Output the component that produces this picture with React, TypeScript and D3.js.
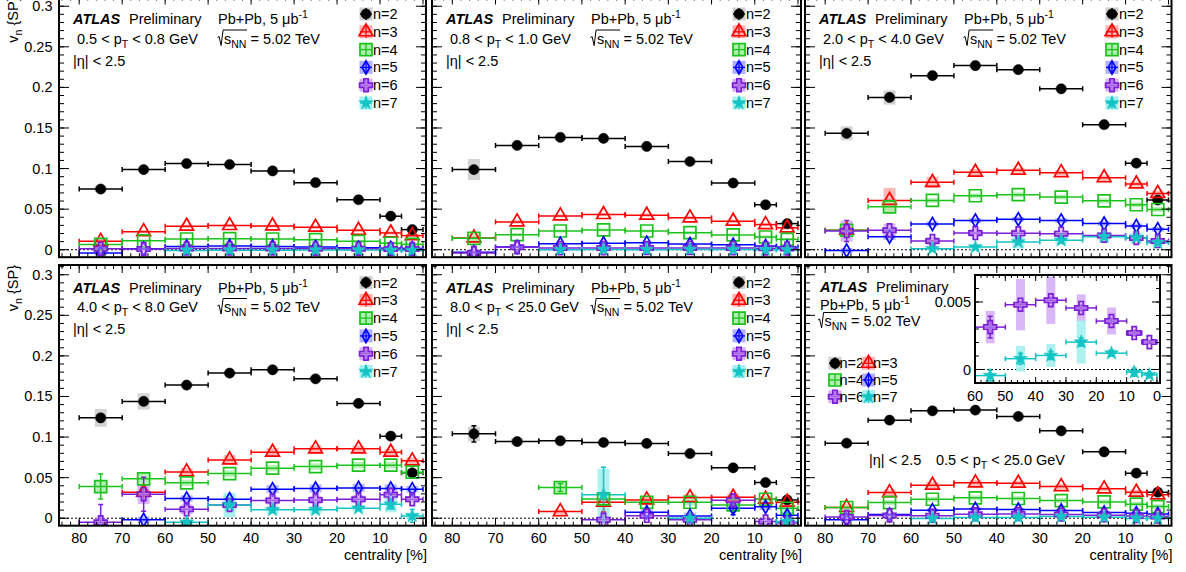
import React from 'react'
import * as d3 from 'd3'

const W = 1186
const H = 572
const FONT = '"Liberation Sans", Arial, Helvetica, sans-serif'

// centrality bins (%), most peripheral first
const binLow = [70, 60, 50, 40, 30, 20, 10, 5, 0]
const binHigh = [80, 70, 60, 50, 40, 30, 20, 10, 5]
const binMid = [75, 65, 55, 45, 35, 25, 15, 7.5, 2.5]

const harmonics = ['n=2', 'n=3', 'n=4', 'n=5', 'n=6', 'n=7']
const ptRanges = [['0.5', '0.8'], ['0.8', '1.0'], ['2.0', '4.0'], ['4.0', '8.0'], ['8.0', '25.0']]

const xTickValues = [80, 70, 60, 50, 40, 30, 20, 10, 0]
const yTickValues = [0, 0.05, 0.1, 0.15, 0.2, 0.25, 0.3]
const yTickLabels = ['0', '0.05', '0.1', '0.15', '0.2', '0.25', '0.3']
const insetXTicks = [60, 50, 40, 30, 20, 10, 0]
const insetYTicks = [0, 0.005]
const insetYLabels = ['0', '0.005']

// v_n{SP}: rows n=2..7, columns follow binMid; null = point not shown
const vnPt05to08 = [
  [0.0748, 0.0988, 0.1062, 0.105, 0.0971, 0.0826, 0.0616, 0.0413, 0.0248],
  [0.0103, 0.0223, 0.029, 0.0298, 0.0293, 0.0277, 0.024, 0.0207, 0.0174],
  [0.0066, 0.011, 0.0132, 0.0136, 0.0132, 0.0124, 0.0103, 0.008, 0.0066],
  [-0.004, 0.0012, 0.004, 0.0045, 0.004, 0.0033, 0.0025, 0.002, 0.0017],
  [0.0012, 0.001, 0.0015, 0.0016, 0.0015, 0.0013, 0.0012, 0.001, 0.0008],
  [null, null, -0.0008, -0.0005, -0.0005, -0.0004, -0.0004, -0.0008, -0.001],
]
const vnPt08to10 = [
  [0.0988, 0.1285, 0.1384, 0.1372, 0.1273, 0.1087, 0.0822, 0.0554, 0.0322],
  [0.0145, 0.0343, 0.0417, 0.0434, 0.0426, 0.0393, 0.0351, 0.031, 0.027],
  [0.014, 0.0186, 0.0231, 0.0244, 0.0231, 0.021, 0.0182, 0.0157, 0.0128],
  [-0.003, 0.0033, 0.0074, 0.0079, 0.0087, 0.007, 0.0062, 0.0045, 0.0033],
  [-0.004, 0.003, 0.002, 0.002, 0.0022, 0.0022, 0.002, 0.0017, 0.0015],
  [null, null, 0.0, 0.0003, 0.0, 0.0003, 0.0002, 0.0, 0.0],
]
const vnPt20to40 = [
  [0.1434, 0.1876, 0.2145, 0.2269, 0.2219, 0.1983, 0.1541, 0.1066, 0.0612],
  [0.024, 0.0607, 0.083, 0.0955, 0.098, 0.095, 0.0888, 0.081, 0.0694],
  [0.024, 0.0529, 0.0607, 0.0665, 0.0678, 0.0649, 0.0603, 0.0554, 0.0496],
  [-0.001, 0.0161, 0.0318, 0.036, 0.0376, 0.036, 0.0322, 0.0293, 0.0252],
  [0.023, 0.024, 0.0107, 0.0207, 0.0202, 0.0198, 0.0174, 0.0145, 0.0107],
  [null, null, 0.0012, 0.0033, 0.0095, 0.0116, 0.0161, 0.0149, 0.0087],
]
const vnPt40to80 = [
  [0.1237, 0.1439, 0.164, 0.1788, 0.1829, 0.1718, 0.1414, 0.1011, 0.0559],
  [null, 0.032, 0.0571, 0.0719, 0.0814, 0.0855, 0.0855, 0.0814, 0.0707],
  [0.039, 0.0485, 0.0436, 0.055, 0.0617, 0.0637, 0.0654, 0.0654, 0.0567],
  [null, -0.002, 0.0243, 0.0234, 0.0358, 0.0366, 0.0374, 0.0366, 0.0358],
  [-0.005, 0.0296, 0.011, 0.0164, 0.0218, 0.0226, 0.0234, 0.0288, 0.0234],
  [null, null, -0.005, 0.0164, 0.0103, 0.0103, 0.0123, 0.0173, 0.0029],
]
const vnPt80to250 = [
  [0.104, 0.0945, 0.0954, 0.0933, 0.0921, 0.0797, 0.0621, 0.044, 0.0226],
  [null, null, 0.0082, 0.0197, 0.0226, 0.0255, 0.0259, 0.0234, 0.0197],
  [null, null, 0.0378, 0.0238, 0.0197, 0.0197, 0.0164, 0.0234, 0.0123],
  [null, null, null, null, 0.0074, 0.0029, 0.0123, 0.014, 0.0037],
  [null, null, null, -0.002, 0.003, -0.002, 0.0222, -0.004, -0.006],
  [null, null, null, 0.0288, null, 0.0, null, null, -0.004],
]
const vnPt05to250 = [
  [0.0925, 0.1208, 0.1323, 0.1332, 0.1254, 0.1077, 0.0818, 0.0555, 0.0321],
  [0.0132, 0.0316, 0.0407, 0.0436, 0.0432, 0.039, 0.0362, 0.0321, 0.0288],
  [0.0132, 0.0193, 0.0234, 0.0251, 0.0243, 0.0218, 0.0201, 0.0173, 0.0144],
  [-0.002, 0.0045, 0.0099, 0.0115, 0.0107, 0.0095, 0.007, 0.0062, 0.0053],
  [0.0015, 0.0035, 0.00314, 0.0048, 0.00513, 0.00456, 0.00359, 0.0027, 0.00203],
  [null, null, -0.00045, 0.0008, 0.00104, 0.00203, 0.00121, -0.0002, -0.0004],
]

// systematic uncertainties (half height of shaded boxes)
const sysPt05to08 = [
  [0.004, 0.0015, 0.0015, 0.0015, 0.0015, 0.0015, 0.0015, 0.0012, 0.0012],
  [0.003, 0.002, 0.002, 0.002, 0.002, 0.002, 0.002, 0.002, 0.002],
  [0.004, 0.0015, 0.0015, 0.0015, 0.0015, 0.0015, 0.0015, 0.0015, 0.0015],
  [0.003, 0.001, 0.001, 0.001, 0.001, 0.001, 0.001, 0.001, 0.001],
  [0.004, 0.002, 0.001, 0.001, 0.001, 0.001, 0.001, 0.001, 0.001],
  [0, 0, 0.001, 0.001, 0.001, 0.001, 0.001, 0.001, 0.001],
]
const sysPt08to10 = [
  [0.013, 0.002, 0.0015, 0.0015, 0.0015, 0.0015, 0.0015, 0.0015, 0.0015],
  [0.004, 0.002, 0.002, 0.002, 0.002, 0.002, 0.002, 0.002, 0.002],
  [0.006, 0.002, 0.002, 0.002, 0.002, 0.002, 0.002, 0.002, 0.002],
  [0.004, 0.001, 0.001, 0.001, 0.001, 0.001, 0.001, 0.001, 0.001],
  [0.004, 0.002, 0.001, 0.001, 0.001, 0.001, 0.001, 0.001, 0.001],
  [0, 0, 0.001, 0.001, 0.001, 0.001, 0.001, 0.001, 0.001],
]
const sysPt20to40 = [
  [0.0087, 0.0087, 0.002, 0.002, 0.002, 0.002, 0.002, 0.002, 0.002],
  [0.006, 0.0155, 0.007, 0.004, 0.003, 0.003, 0.003, 0.003, 0.003],
  [0.006, 0.007, 0.003, 0.003, 0.003, 0.003, 0.003, 0.003, 0.003],
  [0.003, 0.004, 0.003, 0.003, 0.003, 0.003, 0.003, 0.003, 0.003],
  [0.013, 0.008, 0.005, 0.005, 0.005, 0.004, 0.004, 0.004, 0.003],
  [0, 0, 0.002, 0.003, 0.008, 0.005, 0.005, 0.006, 0.004],
]
const sysPt40to80 = [
  [0.011, 0.01, 0.003, 0.003, 0.003, 0.003, 0.003, 0.003, 0.003],
  [0, 0.004, 0.005, 0.006, 0.005, 0.004, 0.004, 0.004, 0.004],
  [0.008, 0.006, 0.004, 0.004, 0.004, 0.004, 0.004, 0.004, 0.004],
  [0, 0.004, 0.004, 0.005, 0.005, 0.005, 0.005, 0.005, 0.004],
  [0.005, 0.012, 0.006, 0.005, 0.005, 0.005, 0.005, 0.006, 0.004],
  [0, 0, 0.004, 0.015, 0.005, 0.005, 0.004, 0.01, 0.004],
]
const sysPt80to250 = [
  [0.009, 0.004, 0.002, 0.002, 0.002, 0.002, 0.002, 0.002, 0.002],
  [0, 0, 0.003, 0.005, 0.004, 0.004, 0.004, 0.004, 0.004],
  [0, 0, 0.006, 0.005, 0.004, 0.004, 0.004, 0.004, 0.004],
  [0, 0, 0, 0, 0.004, 0.004, 0.004, 0.004, 0.004],
  [0, 0, 0, 0.003, 0.003, 0.003, 0.004, 0.003, 0.003],
  [0, 0, 0, 0.032, 0, 0.004, 0, 0, 0.004],
]
const sysPt05to250 = [
  [0.002, 0.002, 0.002, 0.002, 0.002, 0.002, 0.002, 0.002, 0.002],
  [0.004, 0.004, 0.004, 0.004, 0.003, 0.003, 0.003, 0.003, 0.003],
  [0.003, 0.003, 0.003, 0.003, 0.003, 0.003, 0.003, 0.003, 0.003],
  [0.002, 0.002, 0.002, 0.002, 0.002, 0.002, 0.002, 0.002, 0.002],
  [0.001, 0.001, 0.0012, 0.0019, 0.00175, 0.001, 0.001, 0.0002, 0.0002],
  [0, 0, 0, 0.00095, 0.00085, 0.0016, 0.0003, 0.0001, 0.0001],
]

// statistical uncertainties (vertical error bars), 0 = hidden by marker
const statPt05to08 = [
  [0, 0, 0, 0, 0, 0, 0, 0, 0], [0, 0, 0, 0, 0, 0, 0, 0, 0], [0, 0, 0, 0, 0, 0, 0, 0, 0],
  [0, 0, 0, 0, 0, 0, 0, 0, 0], [0, 0, 0, 0, 0, 0, 0, 0, 0], [0, 0, 0, 0, 0, 0, 0, 0, 0],
]
const statPt08to10 = statPt05to08
const statPt20to40 = [
  [0, 0, 0, 0, 0, 0, 0, 0, 0], [0, 0, 0, 0, 0, 0, 0, 0, 0], [0, 0, 0, 0, 0, 0, 0, 0, 0],
  [0, 0, 0, 0, 0, 0, 0, 0, 0], [0.013, 0, 0, 0, 0, 0, 0, 0, 0], [0, 0, 0, 0, 0, 0, 0, 0, 0],
]
const statPt40to80 = [
  [0, 0, 0, 0, 0, 0, 0, 0, 0], [0, 0, 0, 0, 0, 0, 0, 0, 0], [0.0154, 0, 0, 0, 0, 0, 0, 0, 0],
  [0, 0, 0, 0, 0, 0, 0, 0, 0], [0.022, 0.021, 0, 0, 0, 0, 0, 0, 0], [0, 0, 0, 0, 0, 0, 0, 0.006, 0.008],
]
const statPt80to250 = [
  [0.01, 0, 0, 0, 0, 0, 0, 0, 0], [0, 0, 0, 0.012, 0, 0, 0, 0, 0], [0, 0, 0.005, 0, 0, 0, 0, 0, 0],
  [0, 0, 0, 0, 0, 0, 0.008, 0, 0], [0, 0, 0, 0, 0, 0, 0.006, 0, 0], [0, 0, 0, 0.034, 0, 0.02, 0, 0, 0.012],
]
const statPt05to250 = [
  [0, 0, 0, 0, 0, 0, 0, 0, 0], [0, 0, 0, 0, 0, 0, 0, 0, 0], [0, 0, 0, 0, 0, 0, 0, 0, 0],
  [0, 0, 0, 0, 0, 0, 0, 0, 0],
  [0, 0, 0.0008, 0.0002, 0.0002, 0.0002, 0.0002, 0.0002, 0.0001],
  [0, 0, 0.0004, 0.0004, 0.0003, 0.0003, 0.0002, 0.0003, 0.0002],
]

const panelData = [
  { vn: vnPt05to08, sys: sysPt05to08, stat: statPt05to08 },
  { vn: vnPt08to10, sys: sysPt08to10, stat: statPt08to10 },
  { vn: vnPt20to40, sys: sysPt20to40, stat: statPt20to40 },
  { vn: vnPt40to80, sys: sysPt40to80, stat: statPt40to80 },
  { vn: vnPt80to250, sys: sysPt80to250, stat: statPt80to250 },
  { vn: vnPt05to250, sys: sysPt05to250, stat: statPt05to250 },
]

// layout
const COLS = [[59, 426], [432, 801], [805, 1171.5]]
const ROWS = [[-3.5, 257.2], [265, 525.7]]
const INSET = { left: 975, right: 1160, top: 275, bottom: 383 }

const colors = ['#000000', '#ff0000', '#1cc21c', '#0000ff', '#7a1fd6', '#14c4c4']
const boxFills = ['#cfcfcf', '#ffb0b0', '#aeeeae', '#b0b0ff', '#d6b0f6', '#a4f0f0']
const symbolTypes = [d3.symbolCircle, d3.symbolTriangle, d3.symbolSquare, d3.symbolDiamond, d3.symbolCross, d3.symbolStar]
const symbolSizes = [82, 82, 144, 50, 92, 62]

const Marker = ({ k, x, y }) => {
  const d = d3.symbol().type(symbolTypes[k]).size(symbolSizes[k])()
  const filled = k === 0 || k === 5
  return (
    <path
      d={d}
      transform={`translate(${x},${y})`}
      fill={filled ? colors[k] : k === 4 ? 'rgba(214,176,246,0.45)' : 'none'}
      stroke={colors[k]}
      strokeWidth={filled ? 0.5 : 1.7}
    />
  )
}

const Series = ({ vn, sys, stat, x, y, boxW, bins }) => (
  <g>
    {vn.map((row, k) =>
      row.map((v, b) =>
        v === null || !bins.includes(b) || !sys[k][b] ? null : (
          <rect
            key={`s${k}-${b}`}
            x={x(binMid[b]) - boxW / 2}
            y={y(v + sys[k][b])}
            width={boxW}
            height={y(v - sys[k][b]) - y(v + sys[k][b])}
            fill={boxFills[k]}
            opacity={0.9}
          />
        )
      )
    )}
    {vn.map((row, k) =>
      row.map((v, b) => {
        if (v === null || !bins.includes(b)) return null
        const cy = y(v)
        const xa = x(binHigh[b])
        const xb = x(binLow[b])
        const e = stat[k][b]
        return (
          <g key={`e${k}-${b}`} stroke={colors[k]} strokeWidth={1.5}>
            <line x1={xa} x2={xb} y1={cy} y2={cy} />
            <line x1={xa} x2={xa} y1={cy - 2.5} y2={cy + 2.5} />
            <line x1={xb} x2={xb} y1={cy - 2.5} y2={cy + 2.5} />
            {e > 0 && (
              <>
                <line x1={x(binMid[b])} x2={x(binMid[b])} y1={y(v + e)} y2={y(v - e)} />
                <line x1={x(binMid[b]) - 2.5} x2={x(binMid[b]) + 2.5} y1={y(v + e)} y2={y(v + e)} />
                <line x1={x(binMid[b]) - 2.5} x2={x(binMid[b]) + 2.5} y1={y(v - e)} y2={y(v - e)} />
              </>
            )}
          </g>
        )
      })
    )}
    {vn.map((row, k) =>
      row.map((v, b) =>
        v === null || !bins.includes(b) ? null : <Marker key={`m${k}-${b}`} k={k} x={x(binMid[b])} y={y(v)} />
      )
    )}
  </g>
)

const LegendEntry = ({ k, x, y, tx }) => (
  <g>
    <rect x={x - 6.5} y={y - 6.5} width={13} height={13} fill={boxFills[k]} />
    <g stroke={colors[k]} strokeWidth={1.3}>
      <line x1={x - 6} x2={x + 6} y1={y} y2={y} />
      <line x1={x} x2={x} y1={y - 6} y2={y + 6} />
    </g>
    <Marker k={k} x={x} y={y} />
    <text x={tx} y={y + 5} fontSize={14.5}>{harmonics[k]}</text>
  </g>
)

const Sqrts = ({ x, y }) => (
  <g>
    <path
      d={`M${x},${y - 6}L${x + 1.6},${y - 7}L${x + 3.6},${y + 2}L${x + 5.6},${y - 13.5}L${x + 29.5},${y - 13.5}`}
      fill="none"
      stroke="#000"
      strokeWidth={1}
    />
    <text x={x + 6.5} y={y} fontSize={14.5}>
      s<tspan dy={4} fontSize={10.5}>NN</tspan>
      <tspan dy={-4}> = 5.02 TeV</tspan>
    </text>
  </g>
)

const PbPb = ({ x, y }) => (
  <text x={x} y={y} fontSize={14.5}>
    Pb+Pb, 5 μb<tspan dy={-6} fontSize={10.5}>-1</tspan>
  </text>
)

const AtlasLabel = ({ x, y }) => (
  <g fontSize={14.5}>
    <text x={x} y={y} fontWeight="bold" fontStyle="italic">ATLAS</text>
    <text x={x + 56} y={y}>Preliminary</text>
  </g>
)

const PtText = ({ x, y, lo, hi }) => (
  <text x={x} y={y} fontSize={14.5}>
    {lo} &lt; p<tspan dy={4} fontSize={10.5}>T</tspan>
    <tspan dy={-4}> &lt; {hi} GeV</tspan>
  </text>
)

const Frame = ({ x, y, x0, x1, y0, y1, xMinor, yMinor, xMajor, yMajor, xLen, yLen }) => (
  <g stroke="#000">
    {xMinor.map((t, i) => (
      <g key={`xm${i}`} strokeWidth={1}>
        <line x1={x(t)} x2={x(t)} y1={y1} y2={y1 - xLen / 2} />
        <line x1={x(t)} x2={x(t)} y1={y0} y2={y0 + xLen / 2} />
      </g>
    ))}
    {xMajor.map((t, i) => (
      <g key={`xM${i}`} strokeWidth={1}>
        <line x1={x(t)} x2={x(t)} y1={y1} y2={y1 - xLen} />
        <line x1={x(t)} x2={x(t)} y1={y0} y2={y0 + xLen} />
      </g>
    ))}
    {yMinor.map((t, i) => (
      <g key={`ym${i}`} strokeWidth={1}>
        <line x1={x0} x2={x0 + yLen / 2} y1={y(t)} y2={y(t)} />
        <line x1={x1} x2={x1 - yLen / 2} y1={y(t)} y2={y(t)} />
      </g>
    ))}
    {yMajor.map((t, i) => (
      <g key={`yM${i}`} strokeWidth={1}>
        <line x1={x0} x2={x0 + yLen} y1={y(t)} y2={y(t)} />
        <line x1={x1} x2={x1 - yLen} y1={y(t)} y2={y(t)} />
      </g>
    ))}
    <rect x={x0} y={y0} width={x1 - x0} height={y1 - y0} fill="none" strokeWidth={2} />
  </g>
)

const Inset = ({ vn, sys, stat }) => {
  const { left, right, top, bottom } = INSET
  const x = d3.scaleLinear().domain([60, -1]).range([left, right])
  const y = d3.scaleLinear().domain([-0.001, 0.007]).range([bottom, top])
  const sub = vn.map((row, k) => (k >= 4 ? row : row.map(() => null)))
  return (
    <g>
      <rect x={left} y={top} width={right - left} height={bottom - top} fill="#fff" />
      <defs>
        <clipPath id="clip-inset">
          <rect x={left} y={top} width={right - left} height={bottom - top} />
        </clipPath>
      </defs>
      <line x1={left} x2={right} y1={y(0)} y2={y(0)} stroke="#000" strokeWidth={1} strokeDasharray="2,2" />
      <g clipPath="url(#clip-inset)">
        <Series vn={sub} sys={sys} stat={stat} x={x} y={y} boxW={9} bins={[2, 3, 4, 5, 6, 7, 8]} />
      </g>
      <Frame
        x={x} y={y} x0={left} x1={right} y0={top} y1={bottom}
        xMinor={d3.range(0, 61, 2)} xMajor={insetXTicks}
        yMinor={d3.range(0, 8).map(i => i / 1000)} yMajor={insetYTicks}
        xLen={6} yLen={8}
      />
      {insetXTicks.map(t => (
        <text key={t} x={x(t)} y={bottom + 18} fontSize={14.5} textAnchor="middle">{t}</text>
      ))}
      {insetYTicks.map((t, i) => (
        <text key={t} x={left - 4} y={y(t) + 5} fontSize={14.5} textAnchor="end">{insetYLabels[i]}</text>
      ))}
    </g>
  )
}

const Panel = ({ idx }) => {
  const col = idx % 3
  const row = Math.floor(idx / 3)
  const [x0, x1] = COLS[col]
  const [y0, y1] = ROWS[row]
  const { vn, sys, stat } = panelData[idx]
  const x = d3.scaleLinear().domain([84.7, -0.7]).range([x0, x1])
  const y = d3.scaleLinear().domain([-0.0092, 0.312]).range([y1, y0])
  const clipId = `clip-${idx}`
  const isCombined = idx === 5

  return (
    <g>
      <defs>
        <clipPath id={clipId}>
          <rect x={x0} y={y0} width={x1 - x0} height={y1 - y0} />
        </clipPath>
      </defs>
      <line x1={x0} x2={x1} y1={y(0)} y2={y(0)} stroke="#000" strokeWidth={1} strokeDasharray="2,2" />
      <g clipPath={`url(#${clipId})`}>
        <Series vn={vn} sys={sys} stat={stat} x={x} y={y} boxW={12} bins={[0, 1, 2, 3, 4, 5, 6, 7, 8]} />
      </g>
      <Frame
        x={x} y={y} x0={x0} x1={x1} y0={y0} y1={y1}
        xMinor={d3.range(0, 85, 2)} xMajor={xTickValues}
        yMinor={d3.range(0, 32).map(i => i / 100)} yMajor={yTickValues}
        xLen={8} yLen={10}
      />

      {!isCombined && (
        <g>
          <AtlasLabel x={x0 + 14} y={y0 + 27.5} />
          <PbPb x={x0 + 159} y={y0 + 27.5} />
          <PtText x={x0 + 18} y={y0 + 47} lo={ptRanges[idx][0]} hi={ptRanges[idx][1]} />
          <Sqrts x={x0 + 158.5} y={y0 + 47} />
          <text x={x0 + 14} y={y0 + 69} fontSize={14.5}>|η| &lt; 2.5</text>
          {harmonics.map((h, k) => (
            <LegendEntry key={h} k={k} x={x0 + 307} y={y0 + 17.5 + k * 17.8} tx={x0 + 314} />
          ))}
        </g>
      )}

      {isCombined && (
        <g>
          <Inset vn={vn} sys={sys} stat={stat} />
          <AtlasLabel x={x0 + 15} y={y0 + 27} />
          <PbPb x={x0 + 15} y={y0 + 45} />
          <Sqrts x={x0 + 13} y={y0 + 61} />
          {harmonics.map((h, k) => (
            <LegendEntry
              key={h}
              k={k}
              x={x0 + (k % 2 === 0 ? 30 : 63.5)}
              y={y0 + 98.3 + Math.floor(k / 2) * 16.7}
              tx={x0 + (k % 2 === 0 ? 34.5 : 68)}
            />
          ))}
          <text x={x0 + 64} y={y0 + 200} fontSize={14.5}>|η| &lt; 2.5</text>
          <PtText x={x0 + 131} y={y0 + 200} lo="0.5" hi="25.0" />
        </g>
      )}

      {col === 0 && (
        <g>
          {yTickValues.map((t, i) => (
            <text key={t} x={x0 - 6.5} y={y(t) + 5} fontSize={14.5} textAnchor="end">{yTickLabels[i]}</text>
          ))}
          <text transform={`translate(18,${y0}) rotate(-90)`} fontSize={14.5} textAnchor="end">
            v<tspan dy={4} fontSize={10.5}>n</tspan>
            <tspan dy={-4}> {'{SP}'}</tspan>
          </text>
        </g>
      )}

      {row === 1 && (
        <g>
          {xTickValues.map(t => (
            <text key={t} x={x(t)} y={y1 + 17.5} fontSize={14.5} textAnchor="middle">{t}</text>
          ))}
          <text x={x1 + 1} y={560} fontSize={14.5} textAnchor="end">centrality [%]</text>
        </g>
      )}
    </g>
  )
}

export default function App() {
  return (
    <svg
      width={W}
      height={H}
      style={{ position: 'absolute', left: 0, top: 0, background: '#fff' }}
      fontFamily={FONT}
    >
      <rect width={W} height={H} fill="#fff" />
      {panelData.map((_, i) => (
        <Panel key={i} idx={i} />
      ))}
    </svg>
  )
}
